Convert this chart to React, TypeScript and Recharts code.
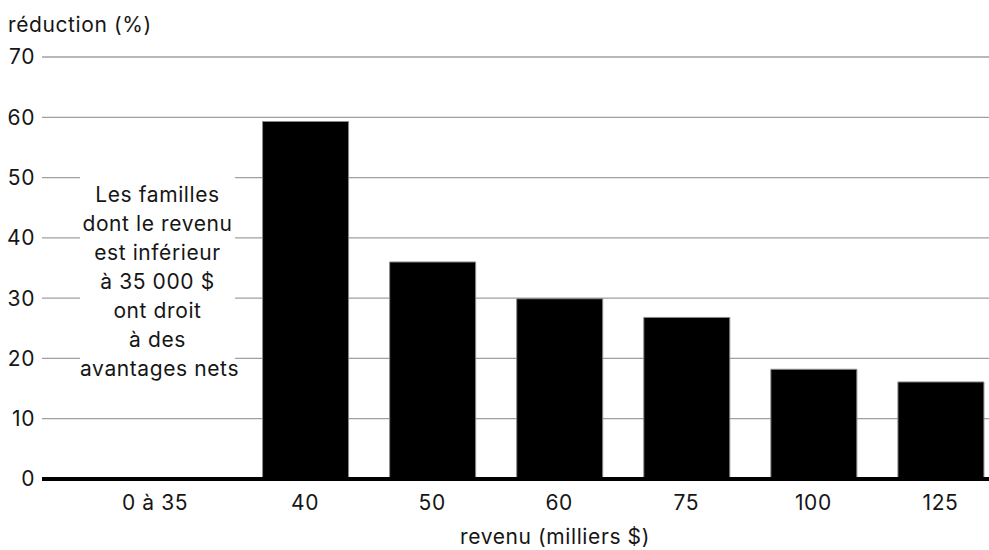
import React from "react";
import { BarChart, Bar, XAxis, YAxis, CartesianGrid, ReferenceLine, Label } from "recharts";

// revenu (milliers $) -> réduction (%)
const categories = ["0 à 35", "40", "50", "60", "75", "100", "125"];
const reductions = [0, 59.3, 36.0, 29.9, 26.8, 18.2, 16.1];
const yTicks = [0, 10, 20, 30, 40, 50, 60, 70];
const noteLines = [
  "Les familles",
  "dont le revenu",
  "est inférieur",
  "à 35 000 $",
  "ont droit",
  "à des",
  "avantages nets",
];

const FONT = "Inter, 'Liberation Sans', Arial, sans-serif";
const INK = "#161616";
const LS = 0.6;

const data = categories.map((c, i) => ({ revenu: c, reduction: reductions[i] }));

function XTick(props: any) {
  const { x, y, payload, index } = props;
  // the first, wider category has its label pulled left
  const shift = index === 0 ? -23 : 0;
  return (
    <text
      x={x + shift}
      y={y}
      dy="0.71em"
      textAnchor="middle"
      fontSize={21}
      fill={INK}
      fontFamily={FONT}
      letterSpacing={LS}
    >
      {payload.value}
    </text>
  );
}

export default function App() {
  return (
    <div
      style={{
        position: "fixed",
        left: 0,
        top: 0,
        width: 989,
        height: 550,
        overflow: "hidden",
        background: "#fff",
        fontFamily: FONT,
      }}
    >
      <style>{"html,body{margin:0;overflow:hidden;}"}</style>
      <BarChart
        width={1004}
        height={550}
        data={data}
        margin={{ top: 57, right: 0, bottom: 0, left: 0 }}
      >
        <CartesianGrid vertical={false} stroke="#a0a0a0" strokeWidth={1.3} />
        <XAxis
          dataKey="revenu"
          height={71}
          axisLine={false}
          tickLine={false}
          tickSize={0}
          tickMargin={16}
          interval={0}
          padding={{ left: 72.5, right: 0 }}
          tick={<XTick />}
        >
          <Label
            value="revenu (milliers $)"
            position="insideBottom"
            offset={6}
            dx={32}
            fontSize={21}
            fill={INK}
            fontFamily={FONT}
            letterSpacing={LS}
          />
        </XAxis>
        <YAxis
          domain={[0, 70]}
          ticks={yTicks}
          width={42}
          axisLine={false}
          tickLine={false}
          tickSize={0}
          tickMargin={7}
          tick={{ fontSize: 21, fill: INK, fontFamily: FONT, letterSpacing: LS }}
        >
          <Label
            content={() => (
              <text x={8} y={32} fontSize={21} fill={INK} fontFamily={FONT} letterSpacing={LS}>
                réduction (%)
              </text>
            )}
          />
        </YAxis>
        <Bar
          dataKey="reduction"
          fill="#000"
          stroke="#8a8a8a"
          strokeWidth={1}
          barSize={86}
          isAnimationActive={false}
        />
        <ReferenceLine y={0} stroke="#000" strokeWidth={4} />
      </BarChart>
      <div
        style={{
          position: "absolute",
          left: 80,
          top: 175,
          width: 155,
          padding: "5px 0",
          background: "#fff",
          textAlign: "center",
          fontSize: 21,
          letterSpacing: LS,
          lineHeight: "29px",
          color: INK,
          whiteSpace: "nowrap",
        }}
      >
        {noteLines.map((l) => (
          <div key={l}>{l}</div>
        ))}
      </div>
    </div>
  );
}
